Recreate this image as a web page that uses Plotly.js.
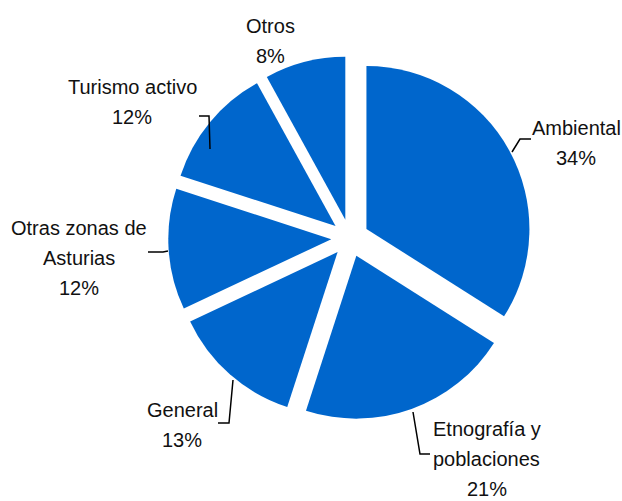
<!DOCTYPE html>
<html>
<head>
<meta charset="utf-8">
<script src="https://cdn.plot.ly/plotly-3.0.1.min.js"></script>
<style>html,body{margin:0;padding:0;background:#fff;}#chart{width:622px;height:501px;}</style>
</head>
<body>
<div id="chart"></div>
<script>
// Data
var categories = ["Ambiental", "Etnografía y poblaciones", "General", "Otras zonas de Asturias", "Turismo activo", "Otros"];
var values = [34, 21, 13, 12, 12, 8];
var labelLines = [
  ["Ambiental", "34%"],
  ["Etnografía y", "poblaciones", "21%"],
  ["General", "13%"],
  ["Otras zonas de", "Asturias", "12%"],
  ["Turismo activo", "12%"],
  ["Otros", "8%"]
];

// Layout helpers (pixel positions of label blocks and leader lines)
var W = 622, H = 501;
var labelPos = [
  {x: 576, y: 128},
  {x: 487, y: 429},
  {x: 182, y: 410},
  {x: 79,  y: 228},
  {x: 132, y: 87},
  {x: 270, y: 26}
];
var lineGap = 30;
var leaders = [
  [[512,152],[520,139],[531,139]],
  [[413,412],[420,454],[430,454]],
  [[233,380],[229,423],[218,423]],
  [[168,251],[163,252],[148,252]],
  [[199,116],[209,116],[210,149]],
  null
];
function px(x){return x / W;}
function py(y){return 1 - y / H;}

var fontFam = "'Liberation Sans Narrow', 'Arial Narrow', 'Liberation Sans', Arial, sans-serif";
var annotations = [];
labelLines.forEach(function(lines, i){
  lines.forEach(function(t, j){
    annotations.push({
      text: t, xref: 'paper', yref: 'paper',
      x: px(labelPos[i].x), y: py(labelPos[i].y + j * lineGap),
      xanchor: 'center', yanchor: 'middle', showarrow: false,
      font: {family: fontFam, size: 20, color: '#111111'}
    });
  });
});
var shapes = [];
leaders.forEach(function(pts){
  if (!pts) return;
  var d = pts.map(function(p, k){ return (k ? 'L' : 'M') + px(p[0]) + ',' + py(p[1]); }).join(' ');
  shapes.push({type: 'path', xref: 'paper', yref: 'paper', path: d, line: {color: '#000', width: 1.5}});
});

var cx = 350, cy = 238, r = 163, pull = 0.115;
var half = r * (1 + pull);
var trace = {
  type: 'pie',
  labels: categories,
  values: values,
  sort: false,
  direction: 'clockwise',
  rotation: 0,
  pull: values.map(function(){return pull;}),
  textinfo: 'none',
  hoverinfo: 'label+percent',
  marker: {colors: values.map(function(){return '#0066CC';}), line: {color: '#ffffff', width: 0}},
  domain: {x: [(cx - half) / W, (cx + half) / W], y: [1 - (cy + half) / H, 1 - (cy - half) / H]},
  showlegend: false
};
var layout = {
  width: W, height: H,
  margin: {l: 0, r: 0, t: 0, b: 0},
  paper_bgcolor: '#ffffff',
  showlegend: false,
  annotations: annotations,
  shapes: shapes,
  font: {family: fontFam}
};
Plotly.newPlot('chart', [trace], layout, {displayModeBar: false, staticPlot: true});
</script>
</body>
</html>
